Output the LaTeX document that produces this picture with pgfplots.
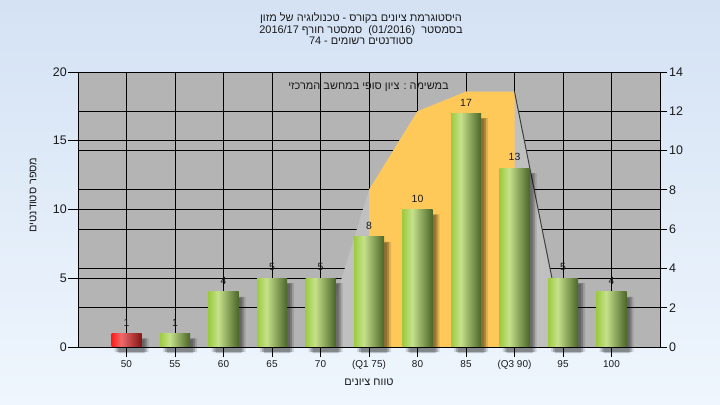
\documentclass[border=0pt]{standalone}
\usepackage{pgfplots}
\pgfplotsset{compat=1.18}
\usepackage{fontspec}
\setmainfont{Liberation Sans}
\newfontfamily\hebfont[Script=Hebrew]{Liberation Sans}
\TeXXeTstate=1
\newcommand{\hb}[1]{{\hebfont\beginR #1\endR}}
\definecolor{bgTop}{HTML}{D4E2F4}
\definecolor{bgBot}{HTML}{EFF6FD}
\definecolor{plotgray}{HTML}{B4B4B4}
\definecolor{lightpoly}{HTML}{C0C0C0}
\definecolor{yellowpoly}{HTML}{FFC95A}
\definecolor{darkline}{HTML}{404040}
\definecolor{txt}{HTML}{1A1A1A}
\definecolor{gL}{HTML}{9CCB3F}
\definecolor{gH}{HTML}{C6E18B}
\definecolor{gD}{HTML}{4B6628}
\definecolor{rL}{HTML}{FF1A1A}
\definecolor{rH}{HTML}{EE6A6A}
\definecolor{rD}{HTML}{851515}
\pgfdeclarehorizontalshading{greenbar}{100bp}{color(0bp)=(gL); color(25bp)=(gL); color(41bp)=(gH); color(75bp)=(gD); color(100bp)=(gD)}
\pgfdeclarehorizontalshading{redbar}{100bp}{color(0bp)=(rL); color(25bp)=(rL); color(41bp)=(rH); color(75bp)=(rD); color(100bp)=(rD)}
\pgfplotstableread{
x y
0 1
1 1
2 4
3 5
4 5
5 8
6 10
7 17
8 13
9 5
10 4
}\alltab
\pgfplotsset{
  barlab/.style={nodes near coords,
    nodes near coords style={font=\fontsize{10.5}{12}\selectfont, text=txt, anchor=south, inner sep=2bp, yshift=5bp}},
  gbar/.style={shading=greenbar, draw=none, barlab},
  rbar/.style={shading=redbar, draw=none, barlab},
}
\begin{document}
\begin{tikzpicture}
\shade[top color=bgTop, bottom color=bgBot] (0bp,0bp) rectangle (720bp,405bp);
\path[use as bounding box] (0bp,0bp) rectangle (720bp,405bp);
% right-scale axis: background, grid, polygons
\begin{axis}[
  at={(78bp,58bp)}, anchor=south west, scale only axis,
  width=582bp, height=275bp,
  xmin=-1, xmax=11, ymin=0, ymax=14,
  axis background/.style={fill=plotgray},
  xtick={0,...,10}, xticklabels={}, xmajorgrids,
  x tick style={draw=none},
  ytick={0,2,...,14}, ytick pos=right, ymajorgrids,
  extra y ticks={3.5,7,10.5}, extra y tick labels={},
  extra y tick style={grid=major, tick style={draw=none}},
  grid style={black, line width=0.9bp},
  tick align=outside, major tick length=7bp,
  y tick style={black, line width=0.9bp},
  axis line style={black, line width=0.9bp},
  yticklabel style={font=\fontsize{12.5}{14}\selectfont, text=txt, inner sep=2bp},
  /pgf/number format/assume math mode=true,
]
\addplot[fill=lightpoly, draw=none] coordinates {(4,0) (5,8) (6,12) (7,13) (8,13) (9,0.7)} \closedcycle;
\addplot[fill=yellowpoly, draw=none] coordinates {(5,0) (5,8) (6,12) (7,13) (8,13) (8,0)} \closedcycle;
\addplot[draw=darkline, line width=1bp] coordinates {(8,13) (9,0.7)};
\end{axis}
% left-scale axis: bars
\begin{axis}[
  at={(78bp,58bp)}, anchor=south west, scale only axis,
  width=582bp, height=275bp,
  xmin=-1, xmax=11, ymin=0, ymax=20,
  axis on top,
  ybar, bar width=30bp, bar shift=0pt,
  xtick={0,...,10},
  xticklabels={50,55,60,65,70,(Q1 75),80,85,(Q3 90),95,100},
  xtick pos=bottom,
  ytick={0,5,...,20}, ytick pos=left,
  tick align=outside, major tick length=10bp,
  tick style={black, line width=0.9bp},
  axis line style={black, line width=0.9bp},
  xticklabel style={font=\fontsize{10}{12}\selectfont, text=txt},
  yticklabel style={font=\fontsize{12.5}{14}\selectfont, text=txt, inner sep=1bp},
  /pgf/number format/assume math mode=true,
  clip=false,
]
% soft shadows
\addplot[fill=black, opacity=0.12, draw=none, bar width=34bp, xshift=5bp, yshift=-5bp] table {\alltab};
\addplot[fill=black, opacity=0.22, draw=none, bar width=30bp, xshift=5bp, yshift=-5bp] table {\alltab};
\addplot[fill=black, opacity=0.18, draw=none, bar width=26bp, xshift=5bp, yshift=-6bp] table {\alltab};
% bars, one path each so that each gets its own shading
\addplot[rbar] coordinates {(0,1)};
\addplot[gbar] coordinates {(1,1)};
\addplot[gbar] coordinates {(2,4)};
\addplot[gbar] coordinates {(3,5)};
\addplot[gbar] coordinates {(4,5)};
\addplot[gbar] coordinates {(5,8)};
\addplot[gbar] coordinates {(6,10)};
\addplot[gbar] coordinates {(7,17)};
\addplot[gbar] coordinates {(8,13)};
\addplot[gbar] coordinates {(9,5)};
\addplot[gbar] coordinates {(10,4)};
\end{axis}
% texts
\begin{scope}[every node/.style={text=txt, font=\fontsize{11}{13}\selectfont}]
\node[anchor=base] at (361bp,383bp) {\hb{היסטוגרמת ציונים בקורס - טכנולוגיה של מזון}};
\node[anchor=base] at (361bp,371.5bp) {\hb{בסמסטר \ \beginL(01/2016)\endL{} \ סמסטר חורף \beginL2016/17\endL}};
\node[anchor=base] at (361bp,360bp) {\hb{סטודנטים רשומים - \beginL74\endL}};
\node[anchor=base] at (368.5bp,315bp) {\hb{במשימה : ציון סופי במחשב המרכזי}};
\node at (369bp,23bp) {\hb{טווח ציונים}};
\node[rotate=90] at (33bp,210bp) {\hb{מספר סטודנטים}};
\end{scope}
\end{tikzpicture}
\end{document}
